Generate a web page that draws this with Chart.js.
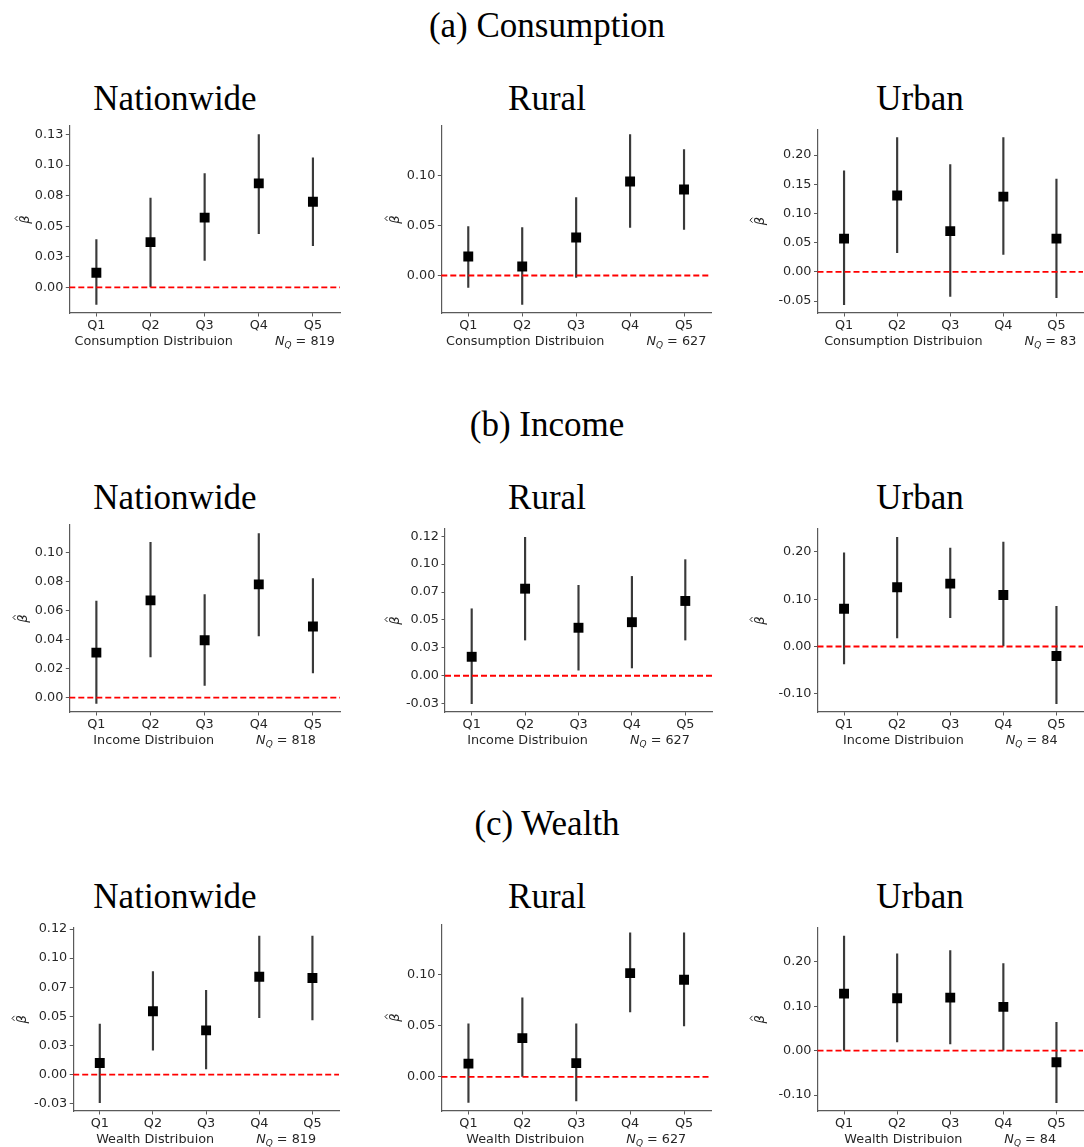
<!DOCTYPE html>
<html>
<head>
<meta charset="utf-8">
<script src="https://cdn.jsdelivr.net/npm/chart.js@4.4.1/dist/chart.umd.min.js"></script>
<style>
  html, body { margin: 0; padding: 0; background: #fff; overflow: hidden; }
  #fig { position: relative; width: 1084px; height: 1147px; overflow: hidden; }
  .ttl { position: absolute; width: 400px; text-align: center; font-family: "Liberation Serif", "Times New Roman", serif;
         font-size: 35px; line-height: 35px; color: #000; white-space: nowrap; }
  canvas { position: absolute; }
</style>
</head>
<body>
<div id="fig"></div>
<script>
const quintiles = ['Q1', 'Q2', 'Q3', 'Q4', 'Q5'];
const letters = ['(a)', '(b)', '(c)'];
const measures = ['Consumption', 'Income', 'Wealth'];
const regions = ['Nationwide', 'Rural', 'Urban'];

// one row per region: nationwide, rural, urban
const consEst = [
  [0.012, 0.037, 0.057, 0.085, 0.070],
  [0.019, 0.009, 0.038, 0.094, 0.086],
  [0.057, 0.131, 0.070, 0.129, 0.057]
];
const consLo = [
  [-0.014, 0.000, 0.022, 0.044, 0.034],
  [-0.012, -0.029, -0.002, 0.048, 0.046],
  [-0.056, 0.033, -0.042, 0.030, -0.044]
];
const consHi = [
  [0.039, 0.073, 0.093, 0.125, 0.106],
  [0.049, 0.048, 0.078, 0.141, 0.126],
  [0.173, 0.230, 0.184, 0.230, 0.159]
];

const incEst = [
  [0.031, 0.067, 0.0395, 0.078, 0.049],
  [0.017, 0.078, 0.043, 0.048, 0.067],
  [0.080, 0.1255, 0.133, 0.109, -0.020]
];
const incLo = [
  [-0.004, 0.028, 0.0085, 0.0425, 0.017],
  [-0.025, 0.032, 0.005, 0.007, 0.032],
  [-0.037, 0.018, 0.061, 0.000, -0.121]
];
const incHi = [
  [0.0665, 0.107, 0.071, 0.113, 0.082],
  [0.060, 0.124, 0.081, 0.089, 0.104],
  [0.198, 0.231, 0.208, 0.221, 0.085]
];

const wealthEst = [
  [0.010, 0.0545, 0.038, 0.084, 0.083],
  [0.013, 0.038, 0.0135, 0.1015, 0.095],
  [0.1285, 0.118, 0.1195, 0.0985, -0.026]
];
const wealthLo = [
  [-0.024, 0.021, 0.005, 0.049, 0.047],
  [-0.025, 0.000, -0.0235, 0.0635, 0.050],
  [0.000, 0.0195, 0.015, 0.000, -0.117]
];
const wealthHi = [
  [0.0435, 0.0885, 0.0725, 0.119, 0.119],
  [0.052, 0.0775, 0.052, 0.141, 0.141],
  [0.258, 0.218, 0.2255, 0.196, 0.064]
];

const sampleN = [
  [819, 627, 83],
  [818, 627, 84],
  [819, 627, 84]
];

// y tick positions and the labels printed at them
const yTickValues = [
  [[0, 0.025, 0.05, 0.075, 0.1, 0.125], [0, 0.05, 0.1], [-0.05, 0, 0.05, 0.1, 0.15, 0.2]],
  [[0, 0.02, 0.04, 0.06, 0.08, 0.1], [-0.025, 0, 0.025, 0.05, 0.075, 0.1, 0.125], [-0.1, 0, 0.1, 0.2]],
  [[-0.025, 0, 0.025, 0.05, 0.075, 0.1, 0.125], [0, 0.05, 0.1], [-0.1, 0, 0.1, 0.2]]
];
const yTickLabels = [
  [['0.00', '0.03', '0.05', '0.08', '0.10', '0.13'], ['0.00', '0.05', '0.10'], ['-0.05', '0.00', '0.05', '0.10', '0.15', '0.20']],
  [['0.00', '0.02', '0.04', '0.06', '0.08', '0.10'], ['-0.03', '0.00', '0.03', '0.05', '0.07', '0.10', '0.12'], ['-0.10', '0.00', '0.10', '0.20']],
  [['-0.03', '0.00', '0.03', '0.05', '0.07', '0.10', '0.12'], ['0.00', '0.05', '0.10'], ['-0.10', '0.00', '0.10', '0.20']]
];

const estAll = [consEst, incEst, wealthEst];
const loAll = [consLo, incLo, wealthLo];
const hiAll = [consHi, incHi, wealthHi];

// page layout: axes box (l,t,r,b) and x of the y label, per panel
const axesBoxes = [
  [{l: 69.3, t: 126, r: 342.5, b: 312.7, yl: 25}, {l: 441.3, t: 126, r: 714, b: 312.7, yl: 395}, {l: 817.5, t: 129.3, r: 1086, b: 312.7, yl: 760}],
  [{l: 69.3, t: 525, r: 342.7, b: 711.7, yl: 23}, {l: 445, t: 529, r: 714.5, b: 712.3, yl: 395}, {l: 817.5, t: 529, r: 1086, b: 712.3, yl: 760}],
  [{l: 73.2, t: 927.7, r: 341.9, b: 1111, yl: 22}, {l: 441.5, t: 924.3, r: 714, b: 1111, yl: 395}, {l: 817.5, t: 927.7, r: 1086, b: 1111, yl: 760}]
];
const rowStep = 399;
const subTitleX = [175, 547, 920];

const FAM = '"DejaVu Sans", sans-serif';
const INK = '#262626';
const SPINE = '#5a5a5a';
Chart.defaults.color = INK;

const zeroLine = {
  id: 'zeroLine',
  afterDatasetsDraw(chart) {
    const {ctx, chartArea, scales} = chart;
    const y = scales.y.getPixelForValue(0);
    ctx.save();
    ctx.strokeStyle = '#ff0000';
    ctx.lineWidth = 1.8;
    ctx.setLineDash([6, 3]);
    ctx.beginPath();
    ctx.moveTo(chartArea.left, y);
    ctx.lineTo(chartArea.right, y);
    ctx.stroke();
    ctx.restore();
  }
};

// rotated beta-hat at the left of the axis
const yLabel = {
  id: 'yLabel',
  afterDraw(chart, args, opts) {
    const {ctx, chartArea} = chart;
    const cx = chartArea.left - opts.offset;
    const cy = (chartArea.top + chartArea.bottom) / 2;
    ctx.save();
    ctx.translate(cx, cy);
    ctx.rotate(-Math.PI / 2);
    ctx.fillStyle = INK;
    ctx.font = `italic 13px ${FAM}`;
    ctx.textAlign = 'center';
    ctx.textBaseline = 'alphabetic';
    ctx.fillText('β', 0, 4);
    ctx.strokeStyle = INK;
    ctx.lineWidth = 1;
    ctx.beginPath();
    ctx.moveTo(-1.5, -7.5);
    ctx.lineTo(1, -10);
    ctx.lineTo(3.5, -7.5);
    ctx.stroke();
    ctx.restore();
  }
};

// "<Measure> Distribuion      N_Q = n" under the axis
const xLabel = {
  id: 'xLabel',
  afterDraw(chart, args, opts) {
    const {ctx, chartArea} = chart;
    const fs = 12.8;
    const parts = [
      {t: opts.text, f: `${fs}px ${FAM}`, dy: 0},
      {gap: 42},
      {t: 'N', f: `italic ${fs}px ${FAM}`, dy: 0},
      {t: 'Q', f: `italic ${fs * 0.7}px ${FAM}`, dy: 2.8},
      {t: ' = ' + opts.n, f: `${fs}px ${FAM}`, dy: 0}
    ];
    ctx.save();
    let total = 0;
    parts.forEach(p => {
      if (p.gap) { p.w = p.gap; } else { ctx.font = p.f; p.w = ctx.measureText(p.t).width; }
      total += p.w;
    });
    let x = (chartArea.left + chartArea.right) / 2 - total / 2;
    const y = chartArea.bottom + 32;
    ctx.fillStyle = INK;
    ctx.textAlign = 'left';
    ctx.textBaseline = 'alphabetic';
    parts.forEach(p => {
      if (!p.gap) { ctx.font = p.f; ctx.fillText(p.t, x, y + p.dy); }
      x += p.w;
    });
    ctx.restore();
  }
};

function yRange(lo, hi) {
  const mn = Math.min(...lo), mx = Math.max(...hi);
  const pad = (mx - mn) * 0.05;
  return [mn - pad, mx + pad];
}

const fig = document.getElementById('fig');

function addTitle(text, cx, baseline) {
  const d = document.createElement('div');
  d.className = 'ttl';
  d.textContent = text;
  d.style.left = (cx - 200) + 'px';
  d.style.top = (baseline - 29.3) + 'px';
  fig.appendChild(d);
}

for (let r = 0; r < 3; r++) {
  addTitle(letters[r] + ' ' + measures[r], 547, 37 + r * rowStep);
  for (let c = 0; c < 3; c++) {
    addTitle(regions[c], subTitleX[c], 110 + r * rowStep);

    const box = axesBoxes[r][c];
    const est = estAll[r][c], lo = loAll[r][c], hi = hiAll[r][c];
    const tickVals = yTickValues[r][c], tickLabs = yTickLabels[r][c];
    const [ymin, ymax] = yRange(lo, hi);

    const cl = Math.round(box.yl - 12);
    const ct = Math.round(box.t - 12);
    const cw = Math.ceil(box.r - cl + 4);
    const ch = Math.round(box.b - ct + 45);
    const yWidth = box.l - cl;

    const canvas = document.createElement('canvas');
    canvas.width = cw;
    canvas.height = ch;
    canvas.style.left = cl + 'px';
    canvas.style.top = ct + 'px';
    fig.appendChild(canvas);

    new Chart(canvas, {
      type: 'bar',
      data: {
        labels: quintiles,
        datasets: [
          {
            type: 'bar',
            data: lo.map((v, i) => [v, hi[i]]),
            backgroundColor: '#3a3a3a',
            barThickness: 1.5,
            order: 2
          },
          {
            type: 'line',
            data: est,
            showLine: false,
            pointStyle: 'rect',
            pointRadius: 7,
            pointHoverRadius: 7,
            backgroundColor: '#000',
            borderColor: '#000',
            borderWidth: 0,
            order: 1
          }
        ]
      },
      options: {
        responsive: false,
        animation: false,
        events: [],
        layout: {padding: {top: box.t - ct, left: 0, right: cw - (box.r - cl), bottom: 0}},
        plugins: {
          legend: {display: false},
          tooltip: {enabled: false},
          yLabel: {offset: box.l - box.yl},
          xLabel: {text: measures[r] + ' Distribuion', n: sampleN[r][c]}
        },
        scales: {
          x: {
            grid: {display: true, drawOnChartArea: false, offset: false, tickLength: 3.5, color: SPINE},
            border: {color: SPINE, width: 1.2},
            ticks: {font: {family: FAM, size: 12.8}, color: INK, padding: 1},
            afterFit: s => { s.height = 45; }
          },
          y: {
            min: ymin,
            max: ymax,
            afterBuildTicks: s => { s.ticks = tickVals.map(v => ({value: v})); },
            ticks: {
              font: {family: FAM, size: 12.8},
              color: INK,
              padding: 2.5,
              callback: (v, i) => tickLabs[i]
            },
            grid: {display: true, drawOnChartArea: false, tickLength: 3.5, color: SPINE},
            border: {color: SPINE, width: 1.2},
            afterFit: s => { s.width = yWidth; }
          }
        }
      },
      plugins: [zeroLine, yLabel, xLabel]
    });
  }
}
</script>
</body>
</html>
